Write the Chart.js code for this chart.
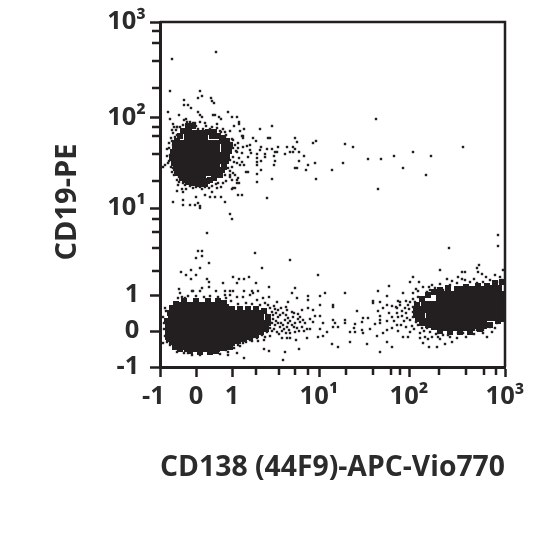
<!DOCTYPE html>
<html>
<head>
<meta charset="utf-8">
<style>body{margin:0;background:#fff}</style>
<script src="https://cdn.jsdelivr.net/npm/chart.js@4/dist/chart.umd.min.js"></script>
</head>
<body>
<canvas id="myChart" width="540" height="540"></canvas>
<script>
// values are display channels of the biexponential scale (0-345)
const majorChannels = [0, 36, 72, 159, 249, 345];
const minorChannels = [96, 119, 135, 148, 186, 213, 231, 240, 279, 306, 324, 336];
const xTickLabels = ['-1\u00a0\u00a0', '0', '1', '10¹', '10²', '10³'];
const yTickLabels = ['-1\u00a0', '0\u00a0', '1\u00a0', '10¹', '10²', '10³'];

// densest parts of the three populations
const denseUpper = [[30,231],[42,231],[18,221],[30,221],[42,221],[54,221],[17,209],[29,209],[41,209],[53,209],[60,209],[20,197],[32,197],[44,197],[54,197],[28,190],[40,190]];
const denseLower = [[21,59],[33,59],[45,59],[57,59],[14,51],[26,51],[38,51],[50,51],[62,51],[74,51],[86,51],[98,51],[11,41],[23,41],[35,41],[47,41],[59,41],[71,41],[83,41],[95,41],[103,41],[11,33],[23,33],[35,33],[47,33],[59,33],[71,33],[83,33],[93,36],[19,23],[31,23],[43,23],[55,23],[67,23],[30,21],[42,21],[54,21]];
const denseRight = [[300,75],[312,75],[324,75],[336,76],[282,70],[294,70],[306,70],[318,70],[330,70],[339,70],[267,60],[279,60],[291,60],[303,60],[315,60],[327,60],[339,60],[272,50],[284,50],[296,50],[308,50],[320,50],[332,52],[339,55],[285,42],[297,42],[309,42],[321,44]];

// edges of those populations
const rimUpper = [[28,241],[33,241],[23,236],[29,236],[48,235],[54,235],[20,231],[52,231],[58,231],[63,229],[17,226],[62,226],[67,226],[15,221],[64,221],[70,222],[13,215],[69,216],[64,215],[12,209],[67,210],[14,204],[64,203],[66,206],[16,199],[62,197],[64,200],[18,194],[60,192],[22,189],[50,187],[54,189],[47,186],[28,185],[34,184],[40,183],[45,183]];
const rimLower = [[8,40],[7,46],[8,34],[9,28],[12,25],[15,20],[20,18],[62,19],[66,20],[72,24],[78,26],[84,28],[90,30],[96,32],[101,35],[106,38],[108,44],[108,50],[104,56],[96,58],[88,58],[80,58],[72,58],[66,60],[64,64],[10,54],[12,59],[16,63],[24,66],[36,66],[48,66],[58,66],[30,16],[40,15],[50,15],[56,16]];
const rimRight = [[256,58],[256,52],[258,48],[262,44],[268,42],[274,40],[280,36],[290,35],[300,35],[310,35],[320,38],[330,42],[338,46],[343,48],[257,62],[262,68],[268,72],[274,75],[280,77],[288,79],[335,84],[342,85],[306,80],[318,81],[327,81],[262,58],[262,52],[262,48],[267,46],[272,44],[277,42]];

// single events
const upperEvents = [[56,315],[12,308],[10,276],[40,276],[42,271],[38,269],[51,269],[52,266],[54,264],[24,267],[24,262],[28,262],[31,259],[8,255],[38,255],[40,252],[19,252],[53,252],[55,252],[68,255],[72,250],[77,250],[10,248],[42,250],[59,250],[61,248],[79,245],[79,243],[26,248],[30,245],[13,243],[17,240],[33,244],[74,241],[84,238],[100,238],[112,241],[80,236],[70,236],[63,238],[57,243],[93,229],[83,231],[82,231],[108,229],[110,229],[135,229],[156,226],[153,224],[137,225],[96,226],[101,220],[100,217],[112,218],[107,218],[118,220],[127,220],[133,220],[135,218],[130,215],[133,215],[139,215],[144,211],[125,213],[115,215],[117,215],[114,211],[105,213],[105,210],[97,213],[97,209],[97,205],[101,206],[115,206],[114,202],[139,206],[135,199],[137,199],[148,202],[155,204],[146,197],[156,188],[112,188],[97,185],[97,193],[101,197],[97,202],[88,195],[86,195],[84,202],[87,221],[90,222],[90,217],[91,214],[88,210],[78,219],[83,220],[77,215],[82,214],[79,209],[82,205],[77,204],[80,202],[73,194],[70,192],[78,189],[79,184],[75,179],[78,172],[82,172],[72,178],[107,169],[216,248],[185,223],[193,220],[208,208],[221,208],[234,211],[253,215],[271,211],[303,220],[243,199],[266,192],[218,178],[183,204],[172,197],[14,240],[17,240],[12,237],[16,237],[13,234],[17,232],[11,229],[17,227],[13,222],[18,225],[9,219],[7,218],[10,212],[5,202],[3,200],[8,204],[13,199],[15,197],[12,195],[18,199],[16,205],[14,207],[19,190],[17,187],[21,190],[23,184],[18,182],[25,182],[33,179],[32,187],[40,180],[45,180],[49,179],[52,175],[57,179],[61,180],[63,184],[70,190],[65,192],[72,187],[75,192],[73,179],[77,187],[77,184],[70,207],[68,199],[73,210],[73,219],[70,224],[73,227],[65,230],[61,235],[57,239],[52,240],[45,244],[40,245],[35,244],[27,245],[23,242],[65,235],[68,227],[78,224],[83,229],[13,165],[23,167],[23,162],[30,162],[35,162],[40,159],[40,161],[38,164],[36,170],[45,172],[50,170],[55,170],[61,170],[65,165],[70,153],[72,148],[23,175],[17,176],[38,238],[43,238],[36,241],[60,236],[66,232],[72,228],[75,222],[76,216],[74,205],[72,200],[70,196],[66,186],[58,184],[52,181],[42,178],[36,180],[30,181],[22,178],[14,192],[11,200],[9,206],[7,211],[9,224],[12,226],[15,230],[20,240],[24,247],[46,241],[50,238],[19,185],[26,178],[56,183]];
const lowerEvents = [[47,134],[38,116],[42,116],[36,109],[42,111],[49,104],[40,99],[31,97],[21,95],[26,92],[36,92],[31,88],[47,88],[49,85],[49,80],[19,78],[63,84],[73,90],[79,88],[84,88],[89,90],[77,84],[95,114],[102,99],[130,107],[158,92],[96,84],[109,80],[135,79],[132,74],[165,74],[160,71],[148,71],[148,67],[137,69],[160,62],[128,65],[117,65],[109,70],[103,69],[32,76],[33,76],[40,76],[42,79],[56,76],[65,76],[70,76],[73,76],[84,76],[92,76],[98,76],[20,74],[25,69],[18,69],[65,72],[70,72],[77,70],[83,70],[90,72],[93,74],[97,67],[105,64],[110,59],[118,57],[127,57],[132,55],[142,57],[148,59],[153,57],[155,51],[160,51],[163,44],[153,45],[150,38],[160,38],[167,35],[158,30],[163,31],[147,29],[136,27],[122,29],[127,29],[130,29],[139,18],[125,15],[123,7],[109,16],[104,18],[84,9],[77,14],[68,12],[68,15],[52,14],[40,12],[32,12],[28,14],[10,22],[3,24],[5,59],[13,59],[3,50],[113,52],[118,50],[123,54],[125,47],[128,49],[133,50],[138,48],[143,47],[145,44],[115,42],[120,40],[127,40],[132,42],[137,39],[142,40],[110,39],[117,35],[130,34],[135,35],[105,30],[97,29],[90,27],[83,24],[78,22],[73,22],[88,35],[107,52],[108,49],[110,45],[107,42],[105,39],[102,37],[107,35],[98,34],[102,32],[93,30],[112,55],[116,46],[121,44],[112,36],[122,36],[126,34],[114,61],[108,62],[100,62],[92,63],[86,64],[78,63],[71,66],[66,69],[58,70],[50,71],[44,70],[36,71],[28,71],[22,70],[6,56],[4,44],[4,38],[5,31],[7,25],[17,15],[24,14],[60,13],[66,17],[74,19],[80,21],[86,25],[92,26],[98,26],[104,27],[110,31],[140,50],[150,48],[147,38],[113,48],[116,54],[120,52],[126,52],[130,46],[135,44],[140,45],[114,38],[119,33],[124,38],[129,37],[134,40],[139,36],[144,36],[112,44],[118,44],[123,42],[128,44],[134,54],[138,53],[115,58],[121,59],[126,60]];
const rightEvents = [[338,132],[338,121],[289,119],[280,97],[319,102],[317,99],[318,95],[322,93],[298,90],[302,95],[305,95],[287,88],[335,92],[343,97],[250,85],[259,85],[253,90],[269,80],[229,81],[218,76],[185,74],[256,78],[253,74],[243,74],[227,71],[213,66],[213,64],[220,65],[227,62],[238,66],[240,65],[246,66],[250,65],[173,62],[173,60],[197,56],[218,56],[223,59],[232,61],[237,59],[240,62],[245,59],[248,62],[229,54],[220,51],[208,49],[203,49],[202,45],[195,43],[194,39],[190,35],[195,35],[202,37],[203,34],[210,38],[215,43],[220,44],[220,47],[227,46],[237,54],[238,50],[242,51],[247,49],[250,47],[237,42],[232,39],[227,37],[223,34],[217,31],[243,30],[248,30],[227,25],[232,20],[220,15],[207,23],[190,25],[178,20],[172,23],[185,47],[185,44],[173,47],[175,44],[178,40],[173,40],[250,35],[260,34],[265,30],[260,29],[268,28],[263,24],[269,20],[277,20],[285,23],[292,25],[297,29],[280,28],[278,30],[303,34],[318,39],[327,30],[335,39],[332,35],[323,34],[267,75],[270,77],[275,79],[283,77],[287,80],[290,82],[297,84],[305,87],[310,85],[317,84],[323,85],[330,87],[337,85],[342,87],[258,70],[255,65],[253,60],[253,55],[253,50],[256,45],[258,42],[262,39],[267,39],[270,35],[278,34],[283,32],[290,30],[298,34],[310,35],[317,37],[323,37],[330,40],[337,44],[342,47],[242,56],[246,54],[249,58],[244,46],[241,42],[246,40],[238,36],[252,41],[236,60],[232,50],[234,46],[253,68],[258,76],[263,80],[272,82],[280,83],[292,86],[302,88],[314,88],[326,90],[340,90],[306,30],[314,33],[272,30],[276,33],[288,32],[264,36],[254,38]];

const ink = '#231f20';
const toPoints = (list) => list.map((p) => ({ x: p[0], y: p[1] }));

// top and right frame lines and the short minor ticks
const framePlugin = {
  id: 'frame',
  afterDraw(chart) {
    const { ctx, chartArea: a, scales } = chart;
    ctx.save();
    ctx.strokeStyle = ink;
    ctx.lineWidth = 2.5;
    ctx.beginPath();
    ctx.moveTo(a.left, a.top);
    ctx.lineTo(a.right, a.top);
    ctx.lineTo(a.right, a.bottom);
    minorChannels.forEach((v) => {
      const px = scales.x.getPixelForValue(v);
      ctx.moveTo(px, a.bottom);
      ctx.lineTo(px, a.bottom + 8);
      const py = scales.y.getPixelForValue(v);
      ctx.moveTo(a.left, py);
      ctx.lineTo(a.left - 8, py);
    });
    ctx.stroke();
    ctx.restore();
  },
};

const axis = (labels, titleText) => ({
  type: 'linear',
  min: 0,
  max: 345,
  afterBuildTicks: (scale) => {
    scale.ticks = majorChannels.map((v) => ({ value: v }));
  },
  ticks: {
    autoSkip: false,
    maxRotation: 0,
    minRotation: 0,
    padding: 4,
    color: '#2b2b2b',
    font: { family: '"Open Sans"', size: 25.5, weight: '700' },
    callback: (v) => labels[majorChannels.indexOf(v)],
  },
  grid: { drawOnChartArea: false, tickLength: 10, tickWidth: 2.5, tickColor: ink },
  border: { display: true, color: ink, width: 3 },
  title: {
    display: true,
    text: titleText,
    color: '#2b2b2b',
    font: { family: '"Open Sans"', size: 29, weight: '700' },
    padding: 0,
  },
});

const dots = (list, radius) => ({
  data: toPoints(list),
  pointStyle: 'rect',
  pointRadius: radius,
  pointBorderWidth: 0,
  backgroundColor: ink,
});

const xAxis = axis(xTickLabels, 'CD138 (44F9)-APC-Vio770');
xAxis.afterFit = (scale) => { scale.height = 118; };
const yAxis = axis(yTickLabels, 'CD19-PE\u00a0\u00a0');
yAxis.afterFit = (scale) => { scale.width = 110; };

new Chart('myChart', {
  type: 'scatter',
  data: {
    datasets: [
      dots(denseUpper, 8.5),
      dots(denseLower, 8.5),
      dots(denseRight, 8.5),
      dots(rimUpper, 4.25),
      dots(rimLower, 4.25),
      dots(rimRight, 4.25),
      dots(upperEvents, 1.7),
      dots(lowerEvents, 1.7),
      dots(rightEvents, 1.7),
    ],
  },
  options: {
    responsive: false,
    animation: false,
    layout: { padding: { left: 50, right: 35, top: 22, bottom: 55 } },
    plugins: { legend: { display: false }, tooltip: { enabled: false } },
    scales: { x: xAxis, y: yAxis },
  },
  plugins: [framePlugin],
});
</script>
</body>
</html>
